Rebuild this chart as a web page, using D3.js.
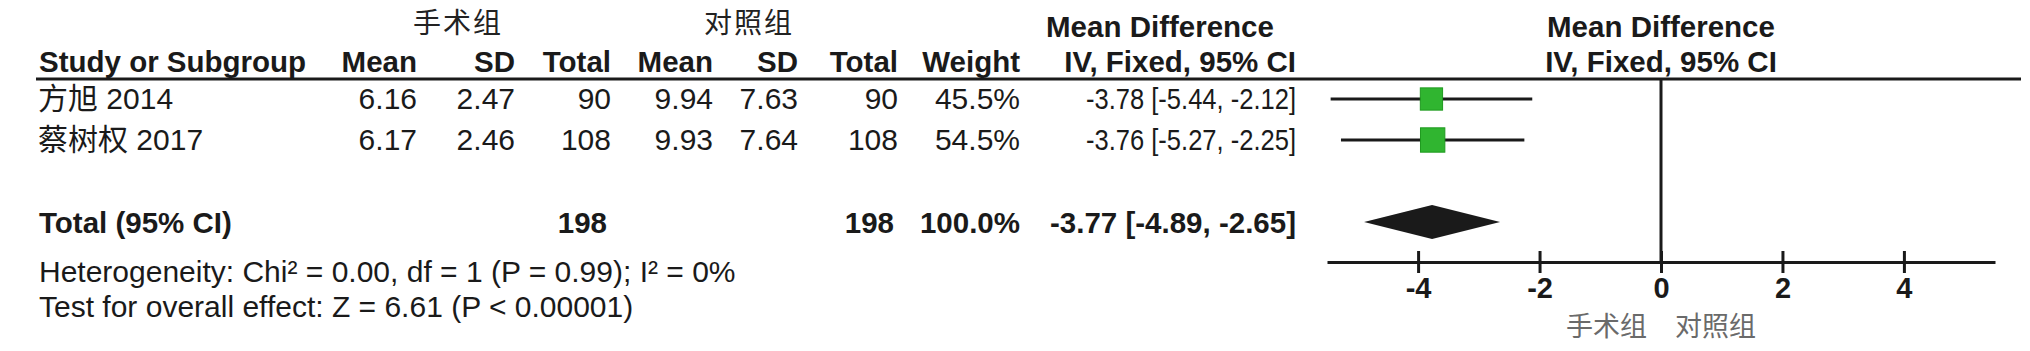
<!DOCTYPE html>
<html>
<head>
<meta charset="utf-8">
<script src="https://cdn.jsdelivr.net/npm/d3@7"></script>
<style>
  body { margin: 0; background: #fff; }
  svg { display: block; font-family: "Liberation Sans", Arial, "Noto Sans CJK SC", sans-serif; }
  .hd { font-weight: bold; font-size: 29.5px; fill: #1a1a1a; }
  .cell { font-size: 30px; fill: #1a1a1a; }
  .cjk { font-family: "Noto Sans CJK SC", sans-serif; }
</style>
</head>
<body>
<script>
// Data
var studies = ["方旭 2014", "蔡树权 2017"];
var expMean = [6.16, 6.17];
var expSD = [2.47, 2.46];
var expTotal = [90, 108];
var ctlMean = [9.94, 9.93];
var ctlSD = [7.63, 7.64];
var ctlTotal = [90, 108];
var weights = [45.5, 54.5];
var md = [-3.78, -3.76];
var mdLow = [-5.44, -5.27];
var mdHigh = [-2.12, -2.25];

var pooled = { md: -3.77, low: -4.89, high: -2.65, expTotal: 198, ctlTotal: 198, weight: 100.0 };
var colHeaders = ["Mean", "SD", "Total", "Mean", "SD", "Total", "Weight", "IV, Fixed, 95% CI"];
var groupHeaders = ["手术组", "对照组"];
var axisTicks = [-4, -2, 0, 2, 4];
var favours = ["手术组", "对照组"];
var heterogeneity = "Heterogeneity: Chi² = 0.00, df = 1 (P = 0.99); I² = 0%";
var overallEffect = "Test for overall effect: Z = 6.61 (P < 0.00001)";

// layout
var W = 2030, H = 351;
var colRight = [417, 515, 611, 713, 798, 898, 1020, 1296];
var rowY = [99, 140];
var totalY = 222;
var axisY = 262;
var lineTop = 80;

var svg = d3.select("body").append("svg")
  .attr("width", W)
  .attr("height", H);

var x = d3.scaleLinear().domain([-5.5, 5.5]).range([1327, 1995]);
var side = d3.scaleSqrt().domain([0, 100]).range([0, 33]);

function fmt2(v) { return d3.format(".2f")(v).replace("−", "-"); }
function ci(m, l, h) { return fmt2(m) + " [" + fmt2(l) + ", " + fmt2(h) + "]"; }

// Group headers
svg.selectAll(".grp")
  .data(groupHeaders)
  .enter()
  .append("text")
  .attr("class", "cjk")
  .attr("x", function (d, i) { return [458, 749][i]; })
  .attr("y", 33)
  .attr("text-anchor", "middle")
  .style("font-size", "28px")
  .style("letter-spacing", "2px")
  .style("fill", "#222")
  .text(function (d) { return d; });

svg.append("text").attr("class", "hd")
  .attr("x", 1160).attr("y", 37).attr("text-anchor", "middle")
  .text("Mean Difference");
svg.append("text").attr("class", "hd")
  .attr("x", x(0)).attr("y", 37).attr("text-anchor", "middle")
  .text("Mean Difference");

// Column headers
svg.append("text").attr("class", "hd")
  .attr("x", 39).attr("y", 72)
  .text("Study or Subgroup");

svg.selectAll(".colhd")
  .data(colHeaders)
  .enter()
  .append("text")
  .attr("class", "hd")
  .attr("x", function (d, i) { return colRight[i]; })
  .attr("y", 72)
  .attr("text-anchor", "end")
  .text(function (d) { return d; });

svg.append("text").attr("class", "hd")
  .attr("x", x(0)).attr("y", 72).attr("text-anchor", "middle")
  .text("IV, Fixed, 95% CI");

// header rule
svg.append("line")
  .attr("x1", 36).attr("x2", 2021)
  .attr("y1", 79).attr("y2", 79)
  .style("stroke", "#1a1a1a")
  .style("stroke-width", 3);

// Study rows
var rows = studies.map(function (s, i) {
  return {
    name: s,
    cells: [fmt2(expMean[i]), fmt2(expSD[i]), expTotal[i], fmt2(ctlMean[i]), fmt2(ctlSD[i]), ctlTotal[i],
      d3.format(".1f")(weights[i]) + "%", ci(md[i], mdLow[i], mdHigh[i])],
    y: rowY[i], md: md[i], low: mdLow[i], high: mdHigh[i], w: weights[i]
  };
});

var rowG = svg.selectAll(".row")
  .data(rows)
  .enter()
  .append("g")
  .attr("class", "row");

rowG.append("text")
  .attr("class", "cell")
  .attr("x", 38)
  .attr("y", function (d) { return d.y + 10; })
  .text(function (d) { return d.name; });

rowG.selectAll(".num")
  .data(function (d) { return d.cells.map(function (c) { return { v: c, y: d.y }; }); })
  .enter()
  .append("text")
  .attr("class", "cell")
  .attr("x", function (d, i) { return colRight[i]; })
  .attr("y", function (d) { return d.y + 10; })
  .attr("text-anchor", "end")
  .attr("textLength", function (d, i) { return i === 7 ? 210 : null; })
  .attr("lengthAdjust", "spacingAndGlyphs")
  .text(function (d) { return d.v; });

// Zero line
svg.append("line")
  .attr("x1", x(0)).attr("x2", x(0))
  .attr("y1", lineTop).attr("y2", axisY)
  .style("stroke", "#1a1a1a")
  .style("stroke-width", 3);

// CI whiskers
rowG.append("line")
  .attr("x1", function (d) { return x(d.low); })
  .attr("x2", function (d) { return x(d.high); })
  .attr("y1", function (d) { return d.y; })
  .attr("y2", function (d) { return d.y; })
  .style("stroke", "#1a1a1a")
  .style("stroke-width", 3);

// weight squares
rowG.append("rect")
  .attr("x", function (d) { return x(d.md) - side(d.w) / 2; })
  .attr("y", function (d) { return d.y - side(d.w) / 2; })
  .attr("width", function (d) { return side(d.w); })
  .attr("height", function (d) { return side(d.w); })
  .style("fill", "#30b530")
  .style("stroke", "#1f9a1f")
  .style("stroke-width", 1);

// Total row
svg.append("text").attr("class", "hd")
  .attr("x", 39).attr("y", 233)
  .text("Total (95% CI)");

var totals = [pooled.expTotal, pooled.ctlTotal, d3.format(".1f")(pooled.weight) + "%", ci(pooled.md, pooled.low, pooled.high)];
var totalCols = [2, 5, 6, 7];
svg.selectAll(".tot")
  .data(totals)
  .enter()
  .append("text")
  .attr("class", "hd")
  .attr("x", function (d, i) { return colRight[totalCols[i]] - (i < 2 ? 4 : 0); })
  .attr("y", 233)
  .attr("text-anchor", "end")
  .text(function (d) { return d; });

// pooled diamond
svg.append("path")
  .attr("d", "M" + x(pooled.low) + "," + totalY +
    " L" + x(pooled.md) + "," + (totalY - 17) +
    " L" + x(pooled.high) + "," + totalY +
    " L" + x(pooled.md) + "," + (totalY + 17) + " Z")
  .style("fill", "#1a1a1a");

// footer text
svg.append("text").attr("class", "cell")
  .attr("x", 39).attr("y", 282)
  .text(heterogeneity);
svg.append("text").attr("class", "cell")
  .attr("x", 39).attr("y", 317)
  .text(overallEffect);

// Axis
var axis = d3.axisBottom(x)
  .tickValues(axisTicks)
  .tickSize(11)
  .tickSizeOuter(0)
  .tickFormat(function (d) { return d3.format("d")(d).replace("−", "-"); });

var axisG = svg.append("g")
  .attr("transform", "translate(0," + axisY + ")")
  .call(axis);

axisG.select(".domain")
  .style("stroke", "#1a1a1a")
  .style("stroke-width", 3);
axisG.selectAll(".tick line")
  .attr("y1", -11)
  .style("stroke", "#1a1a1a")
  .style("stroke-width", 3);
axisG.selectAll(".tick text")
  .attr("y", 36)
  .attr("dy", null)
  .style("font-family", "'Liberation Sans', Arial, sans-serif")
  .style("font-size", "29px")
  .style("font-weight", "bold")
  .style("fill", "#1a1a1a");

// favours labels
svg.selectAll(".fav")
  .data(favours)
  .enter()
  .append("text")
  .attr("class", "cjk")
  .attr("x", function (d, i) { return i === 0 ? x(0) - 14 : x(0) + 14; })
  .attr("y", 336)
  .attr("text-anchor", function (d, i) { return i === 0 ? "end" : "start"; })
  .style("font-size", "27px")
  .style("fill", "#6a6a6a")
  .text(function (d) { return d; });
</script>
</body>
</html>
